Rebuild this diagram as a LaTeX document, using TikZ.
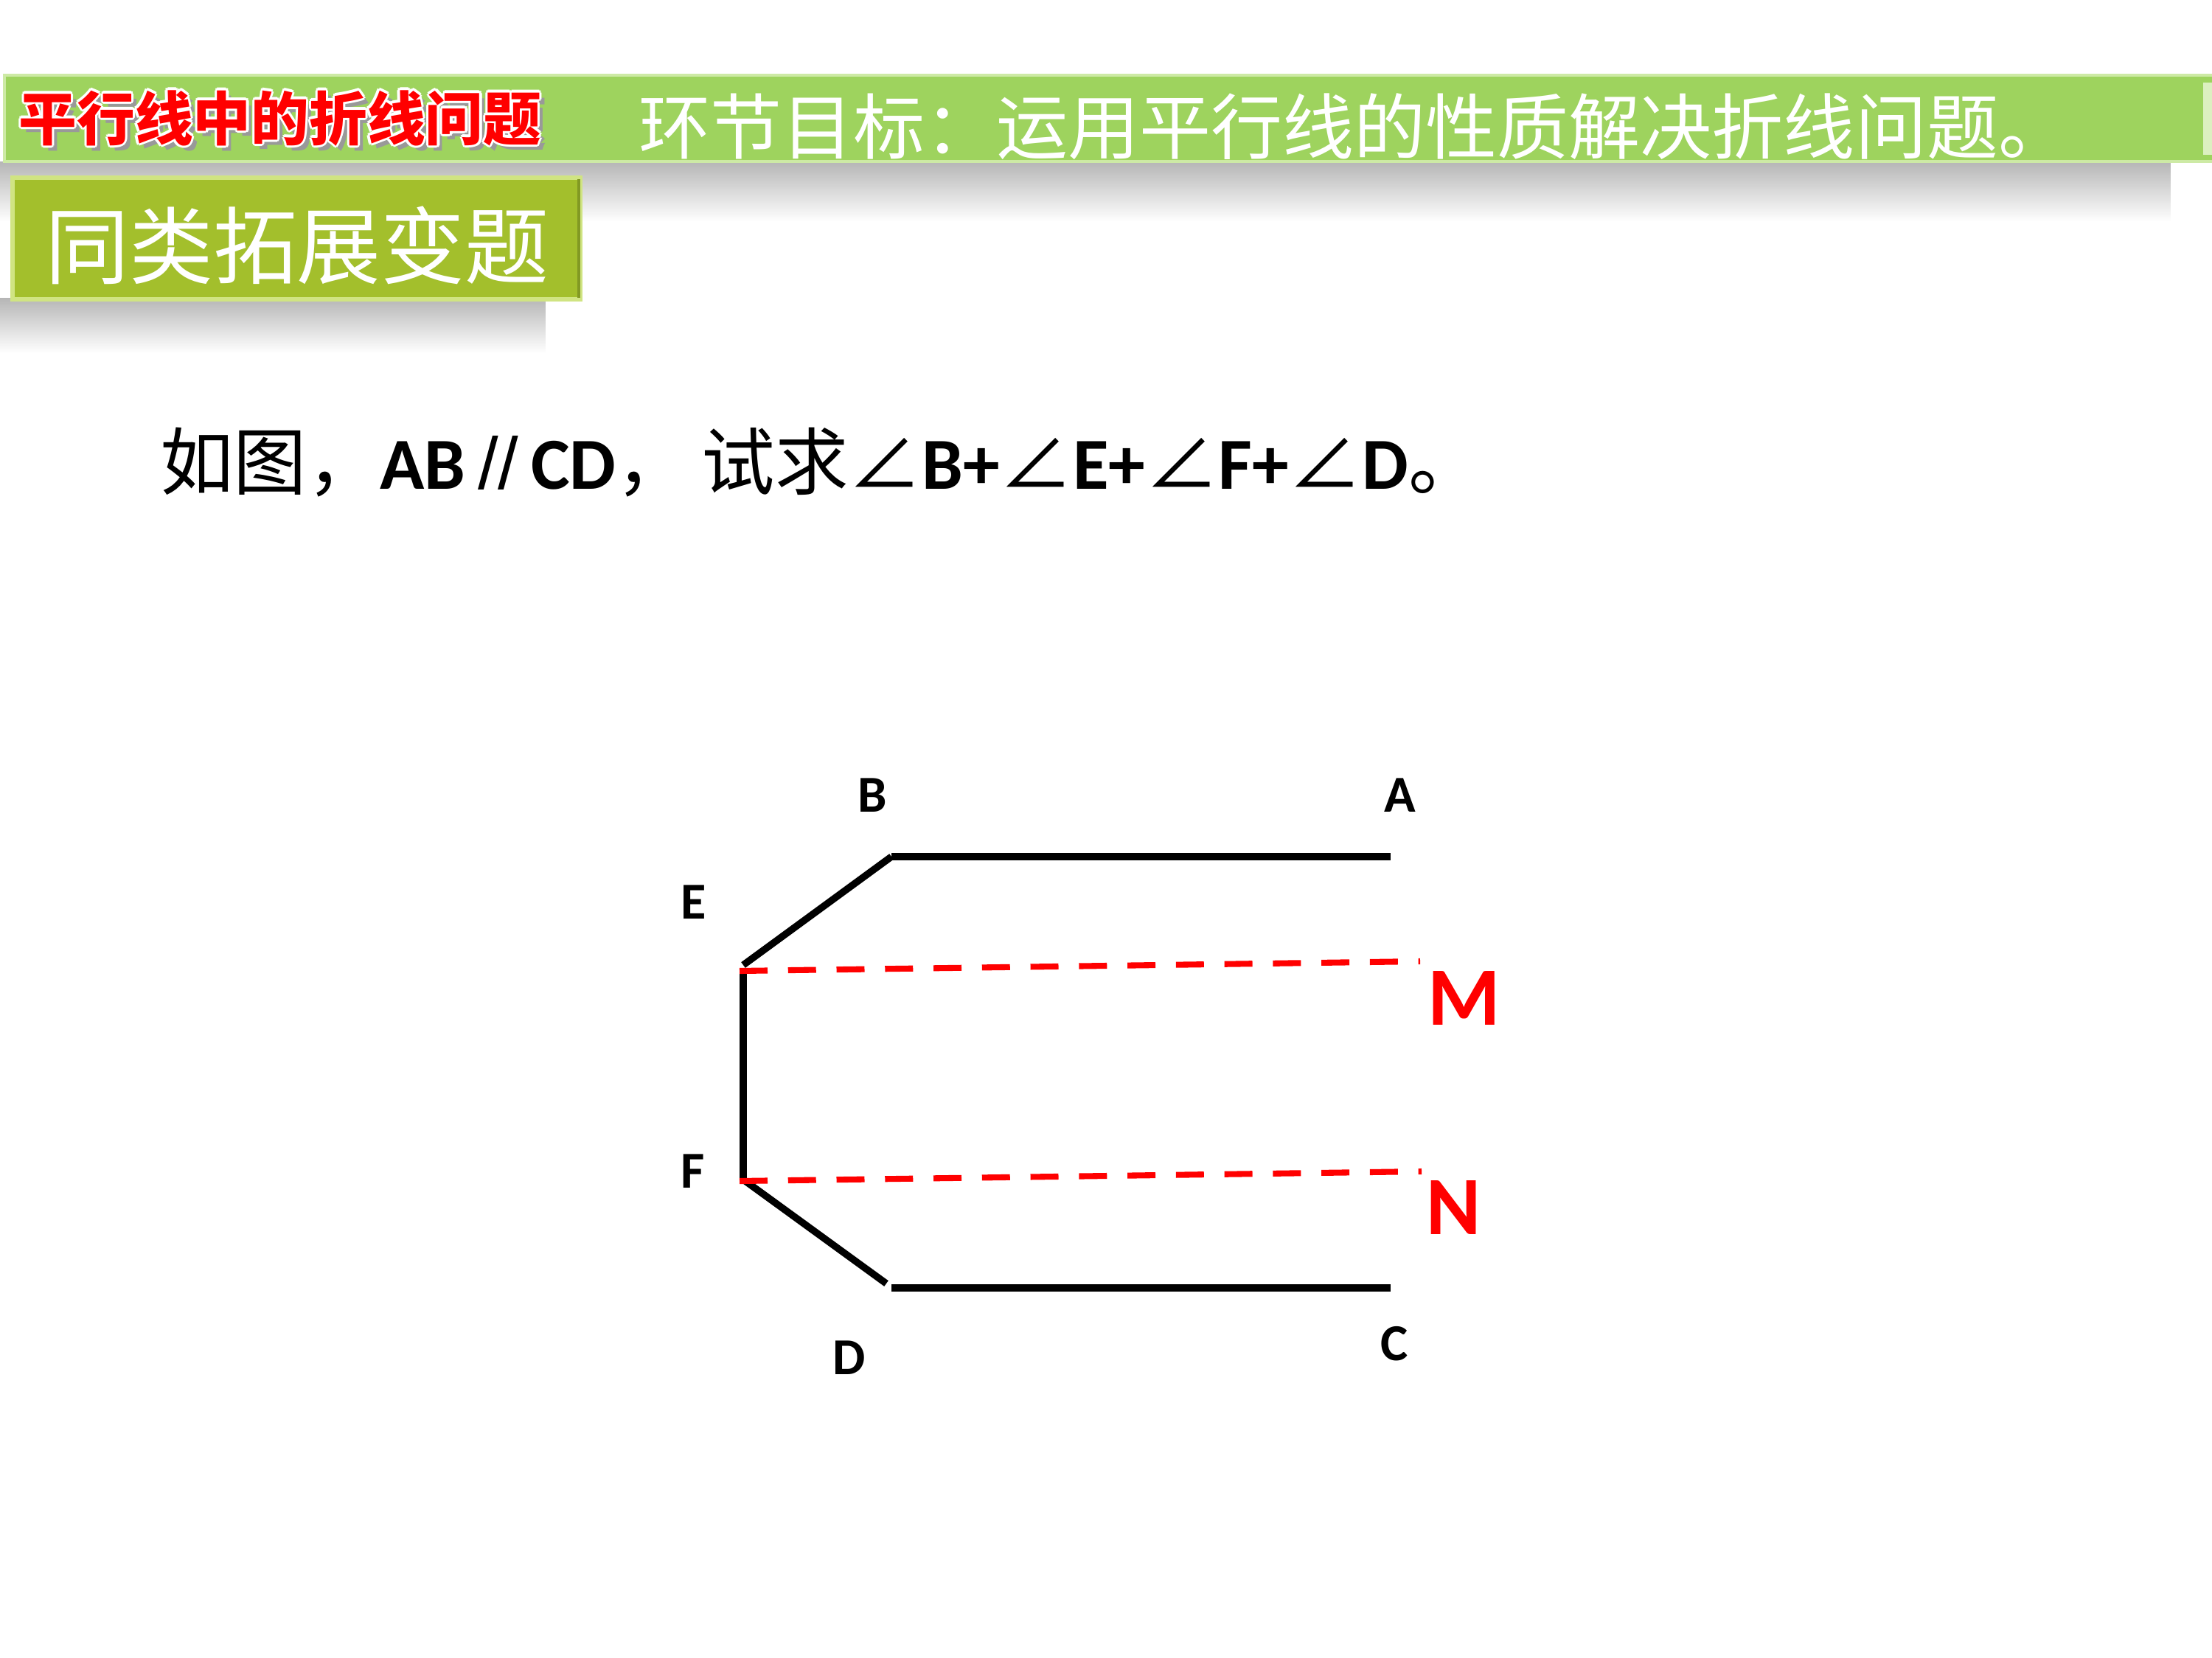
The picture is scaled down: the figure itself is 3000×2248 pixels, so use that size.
\documentclass[tikz,border=0pt]{standalone}
\usepackage{fontspec}
\usetikzlibrary{fadings}
\setmainfont{Carlito}
\newfontfamily\cjk{Noto Sans CJK SC}
\newfontfamily\libs{Liberation Sans}
\definecolor{bannergreen}{RGB}{158,211,94}
\definecolor{bannerrim}{RGB}{205,234,165}
\definecolor{olivebox}{RGB}{163,191,44}
\definecolor{oliverim}{RGB}{208,228,130}
\definecolor{shadowgray}{RGB}{182,182,182}
\definecolor{mred}{RGB}{255,0,0}
\tikzfading[name=shadowfade, top color=transparent!0, middle color=transparent!15, bottom color=transparent!100]
\newcommand\outltext[1]{\leavevmode
  \rlap{\hspace{2pt}\raisebox{-2pt}{\color{black!40}#1}}%
  \rlap{\hspace{-0.9pt}\color{white}#1}%
  \rlap{\hspace{0.9pt}\color{white}#1}%
  \rlap{\raisebox{0.9pt}{\color{white}#1}}%
  \rlap{\raisebox{-0.9pt}{\color{white}#1}}%
  \rlap{\hspace{-0.65pt}\raisebox{0.65pt}{\color{white}#1}}%
  \rlap{\hspace{0.65pt}\raisebox{-0.65pt}{\color{white}#1}}%
  \rlap{\hspace{-0.65pt}\raisebox{-0.65pt}{\color{white}#1}}%
  \rlap{\hspace{0.65pt}\raisebox{0.65pt}{\color{white}#1}}%
  #1}
\tikzset{
  txt/.style={inner sep=0pt, outer sep=0pt},
  seg/.style={line width=2.7pt, black},
  aux/.style={line width=2.3pt, mred, dash pattern=on 10.8pt off 7.9pt},
  ptlabel/.style={txt, font=\fontsize{20pt}{24pt}\selectfont\bfseries},
  redlabel/.style={txt, text=mred, font=\fontsize{32pt}{36pt}\selectfont\bfseries},
}
\begin{document}
\begin{tikzpicture}[x=0.01cm, y=-0.01cm]
\useasboundingbox (0,0) rectangle (3000,2248);
\fill[white] (0,0) rectangle (3000,2248);

% shadows
\fill[shadowgray, path fading=shadowfade] (0,219) rectangle (2950,300);
\fill[shadowgray, path fading=shadowfade] (0,404) rectangle (740,478);

% banner
\fill[bannergreen, draw=bannerrim, line width=1.2pt] (6,102) rectangle (3010,219);
\fill[bannerrim!70!white] (2988,112) rectangle (3000,210);

% title (red with white outline)
\node[txt, text=mred, font=\cjk\bfseries\fontsize{22.4pt}{26pt}\selectfont] (title) at (380,162) {\outltext{平行线中的折线问题}};

% subtitle
\node[txt, text=white, anchor=west, font=\cjk\fontsize{27.6pt}{32pt}\selectfont] (goal) at (866,172) {环节目标：运用平行线的性质解决折线问题。};

% second box
\fill[olivebox, draw=oliverim, line width=1.5pt] (17,241) rectangle (787,406);
\draw[olivebox!80!black, line width=1pt] (785,243) -- (785,404);
\node[txt, text=white, font=\cjk\fontsize{32.4pt}{36pt}\selectfont] (sub) at (403,333) {同类拓展变题};

% question
\node[txt, anchor=base west, font=\fontsize{28.3pt}{32pt}\selectfont] (q) at (217,663)
  {{\cjk 如图，}\textbf{AB}{\libs\,//\,}\textbf{CD}{\cjk ，\,试求∠}\textbf{B+}{\cjk ∠}\textbf{E+}{\cjk ∠}\textbf{F+}{\cjk ∠}\textbf{D}{\cjk 。}};

% figure points
\coordinate (B) at (1209,1162);
\coordinate (A) at (1886,1162);
\coordinate (Et) at (1008,1309);
\coordinate (E) at (1008,1316);
\coordinate (F) at (1008,1600);
\coordinate (D) at (1202,1741);
\coordinate (Dc) at (1209,1747);
\coordinate (C) at (1886,1747);
\coordinate (Es) at (1003,1317);
\coordinate (Fs) at (1003,1602);
\coordinate (M) at (1926,1304);
\coordinate (N) at (1928,1589);

\draw[seg] (B) -- (A);
\draw[seg] (Et) -- (B);
\draw[seg] (E) -- (F);
\draw[seg] (F) -- (D);
\draw[seg] (Dc) -- (C);
\draw[aux] (Es) -- (M);
\draw[aux] (Fs) -- (N);

% labels
\node[ptlabel] (lB) at (1183,1079) {B};
\node[ptlabel] (lA) at (1899,1079) {A};
\node[ptlabel] (lE) at (941,1224) {E};
\node[ptlabel] (lF) at (940,1589) {F};
\node[ptlabel] (lD) at (1152,1842) {D};
\node[ptlabel] (lC) at (1891,1823) {C};
\node[redlabel] (lM) at (1986,1354) {M};
\node[redlabel] (lN) at (1972,1638) {N};
\end{tikzpicture}
\end{document}
